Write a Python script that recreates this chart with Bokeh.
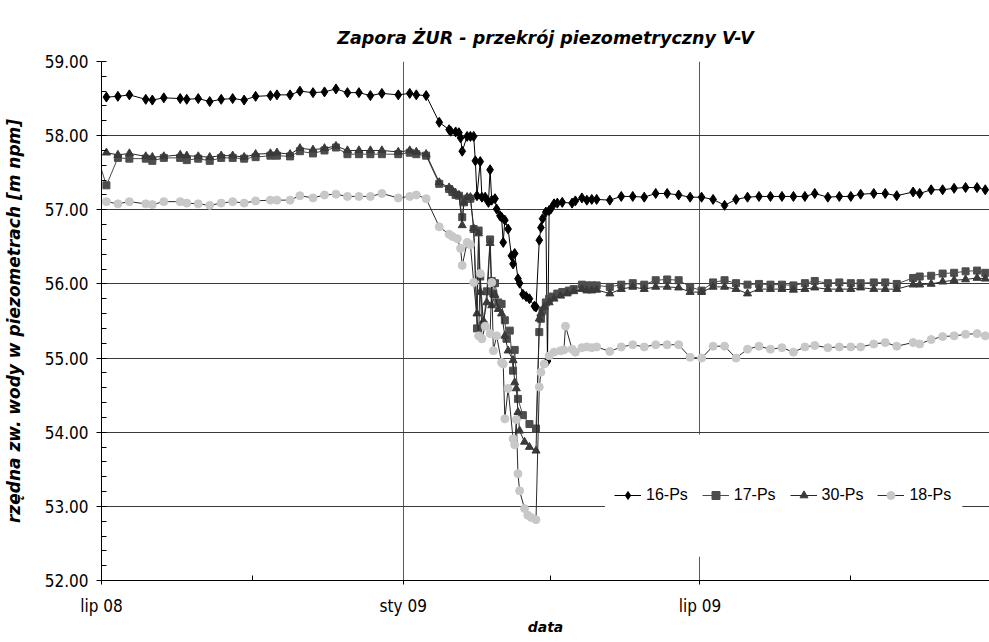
import datetime as dt
from bokeh.plotting import figure
from bokeh.models import (Range1d, FixedTicker, CustomJSTickFormatter, PrintfTickFormatter,
                          Legend, LegendItem, BoxAnnotation)
from bokeh.embed import file_html
from bokeh.resources import INLINE

# ---------------- data ----------------
dates_h1 = ["2008-07-04", "2008-07-11", "2008-07-18", "2008-07-28", "2008-08-01", "2008-08-08",
            "2008-08-18", "2008-08-22", "2008-08-29", "2008-09-05", "2008-09-12", "2008-09-19",
            "2008-09-26", "2008-10-03", "2008-10-12", "2008-10-16", "2008-10-24", "2008-10-30",
            "2008-11-07", "2008-11-14", "2008-11-21", "2008-11-28", "2008-12-05", "2008-12-12",
            "2008-12-19", "2008-12-29", "2009-01-05", "2009-01-09", "2009-01-15"]
dates_h2 = ["2009-04-20", "2009-04-23", "2009-04-26", "2009-04-29", "2009-05-07", "2009-05-14",
            "2009-05-21", "2009-05-28", "2009-06-04", "2009-06-11", "2009-06-18", "2009-06-25",
            "2009-07-02", "2009-07-09", "2009-07-16", "2009-07-23", "2009-07-30", "2009-08-06",
            "2009-08-13", "2009-08-20", "2009-08-27", "2009-09-03", "2009-09-09", "2009-09-17",
            "2009-09-24", "2009-10-01", "2009-10-07", "2009-10-15", "2009-10-22", "2009-10-29",
            "2009-11-08", "2009-11-12", "2009-11-19", "2009-11-26", "2009-12-03", "2009-12-10",
            "2009-12-17", "2009-12-22"]

# 16-Ps
ps16_h1 = [58.52, 58.53, 58.55, 58.49, 58.48, 58.51, 58.50, 58.49, 58.50, 58.46, 58.49, 58.50,
           58.48, 58.53, 58.54, 58.55, 58.55, 58.60, 58.58, 58.59, 58.63, 58.58, 58.58, 58.54,
           58.57, 58.55, 58.57, 58.55, 58.54]
ps16_mid_dates = ["2009-01-23", "2009-01-29", "2009-01-30", "2009-02-02", "2009-02-04", "2009-02-05",
                  "2009-02-06", "2009-02-09", "2009-02-11", "2009-02-13", "2009-02-14", "2009-02-15",
                  "2009-02-17", "2009-02-18", "2009-02-20", "2009-02-22", "2009-02-23", "2009-02-24",
                  "2009-02-26", "2009-02-27", "2009-03-01", "2009-03-02", "2009-03-03", "2009-03-04",
                  "2009-03-06", "2009-03-08", "2009-03-09", "2009-03-10", "2009-03-12", "2009-03-13",
                  "2009-03-15", "2009-03-17", "2009-03-19", "2009-03-22", "2009-03-23", "2009-03-25",
                  "2009-03-26", "2009-03-27", "2009-03-29", "2009-03-30", "2009-03-31", "2009-04-01",
                  "2009-04-03", "2009-04-05", "2009-04-08", "2009-04-14", "2009-04-16"]
ps16_mid = [58.18, 58.08, 58.06, 58.05, 58.04, 57.97,
            57.79, 57.99, 57.99, 57.99, 57.66, 57.19,
            57.65, 57.17, 57.17, 57.10, 57.54, 57.13,
            57.15, 57.01, 56.92, 56.90, 56.56, 56.86,
            56.74, 56.38, 56.27, 56.41, 56.07, 56.01,
            55.86, 55.83, 55.80, 55.70, 55.69, 56.59,
            56.76, 56.88, 56.97, 54.96, 56.99, 57.01,
            57.08, 57.09, 57.10, 57.09, 57.12]
ps16_h2 = [57.16, 57.13, 57.14, 57.14, 57.13, 57.18, 57.18, 57.17, 57.22, 57.22, 57.20, 57.17,
           57.17, 57.14, 57.06, 57.14, 57.17, 57.18, 57.18, 57.18, 57.18, 57.18, 57.22, 57.17,
           57.18, 57.18, 57.21, 57.22, 57.22, 57.19, 57.24, 57.22, 57.27, 57.27, 57.29, 57.30,
           57.30, 57.27]

# 17-Ps
ps17_pre_dates = ["2008-06-28"]
ps17_pre = [57.75]
ps17_h1 = [57.33, 57.70, 57.69, 57.69, 57.66, 57.70, 57.70, 57.67, 57.69, 57.66, 57.70, 57.70,
           57.69, 57.71, 57.73, 57.73, 57.72, 57.79, 57.76, 57.80, 57.84, 57.75, 57.75, 57.75,
           57.75, 57.75, 57.77, 57.75, 57.73]
ps17_mid_dates = ["2009-01-23", "2009-01-29", "2009-01-31", "2009-02-02", "2009-02-04", "2009-02-06",
                  "2009-02-07", "2009-02-09", "2009-02-11", "2009-02-13", "2009-02-15", "2009-02-16",
                  "2009-02-17", "2009-02-19", "2009-02-21", "2009-02-23", "2009-02-24", "2009-02-25",
                  "2009-02-26", "2009-02-28", "2009-03-02", "2009-03-04", "2009-03-05", "2009-03-07",
                  "2009-03-09", "2009-03-10", "2009-03-12", "2009-03-15", "2009-03-19", "2009-03-23",
                  "2009-03-25", "2009-03-26", "2009-03-27", "2009-03-29", "2009-03-31", "2009-04-02",
                  "2009-04-05", "2009-04-08", "2009-04-12", "2009-04-15"]
ps17_mid = [57.35, 57.28, 57.24, 57.20, 57.19, 56.90,
            57.10, 57.15, 57.15, 56.74, 55.40, 56.72,
            56.10, 55.45, 55.90, 56.60, 56.04, 55.87,
            56.01, 55.75, 55.73, 55.51, 55.26, 55.37,
            54.83, 55.11, 54.45, 54.23, 54.11, 54.05,
            55.35, 55.53, 55.64, 55.75, 55.80, 55.83,
            55.87, 55.89, 55.91, 55.93]
ps17_h2 = [55.99, 55.98, 55.98, 55.98, 55.96, 55.99, 56.01, 55.99, 56.05, 56.06, 56.05, 55.96,
           55.91, 56.02, 56.05, 56.01, 55.99, 56.00, 55.99, 55.99, 55.98, 56.01, 56.04, 56.01,
           56.02, 56.01, 56.01, 56.02, 56.02, 56.00, 56.08, 56.10, 56.11, 56.14, 56.15, 56.17,
           56.18, 56.15]

# 30-Ps
ps30_h1 = [57.77, 57.74, 57.76, 57.72, 57.71, 57.72, 57.74, 57.73, 57.72, 57.71, 57.73, 57.73,
           57.71, 57.75, 57.76, 57.77, 57.75, 57.83, 57.81, 57.83, 57.86, 57.80, 57.80, 57.80,
           57.80, 57.78, 57.80, 57.78, 57.75]
ps30_mid_dates = ["2009-01-23", "2009-01-29", "2009-01-31", "2009-02-02", "2009-02-04", "2009-02-06",
                  "2009-02-07", "2009-02-09", "2009-02-11", "2009-02-13", "2009-02-15", "2009-02-16",
                  "2009-02-17", "2009-02-19", "2009-02-21", "2009-02-23", "2009-02-24", "2009-02-26",
                  "2009-02-28", "2009-03-02", "2009-03-04", "2009-03-06", "2009-03-09", "2009-03-10",
                  "2009-03-11", "2009-03-12", "2009-03-13", "2009-03-16", "2009-03-19", "2009-03-23",
                  "2009-03-25", "2009-03-26", "2009-03-28", "2009-03-31", "2009-04-03", "2009-04-07",
                  "2009-04-11", "2009-04-15"]
ps30_mid = [57.37, 57.30, 57.26, 57.22, 57.20, 56.79,
            57.10, 57.17, 57.17, 56.75, 55.60, 56.68,
            55.89, 55.50, 55.75, 56.55, 55.71, 55.85,
            55.66, 55.60, 55.30, 55.10, 54.97, 54.67,
            54.59, 54.27, 54.02, 53.87, 53.80, 53.75,
            55.53, 55.60, 55.69, 55.75, 55.80, 55.84,
            55.87, 55.90]
ps30_h2 = [55.93, 55.91, 55.91, 55.92, 55.87, 55.93, 55.96, 55.93, 55.96, 55.96, 55.95, 55.89,
           55.89, 55.96, 55.96, 55.93, 55.87, 55.93, 55.93, 55.93, 55.92, 55.93, 55.95, 55.93,
           55.93, 55.93, 55.95, 55.93, 55.93, 55.93, 55.99, 55.99, 56.00, 56.03, 56.05, 56.06,
           56.08, 56.07]

# 18-Ps
ps18_h1 = [57.11, 57.08, 57.11, 57.08, 57.07, 57.11, 57.11, 57.09, 57.08, 57.06, 57.09, 57.11,
           57.09, 57.12, 57.13, 57.13, 57.13, 57.19, 57.16, 57.20, 57.21, 57.18, 57.18, 57.18,
           57.22, 57.16, 57.18, 57.20, 57.15]
ps18_mid_dates = ["2009-01-23", "2009-01-29", "2009-01-31", "2009-02-03", "2009-02-05", "2009-02-06",
                  "2009-02-09", "2009-02-11", "2009-02-13", "2009-02-16", "2009-02-17", "2009-02-18",
                  "2009-02-20", "2009-02-23", "2009-02-24", "2009-02-25", "2009-02-27", "2009-03-02",
                  "2009-03-03", "2009-03-04", "2009-03-06", "2009-03-09", "2009-03-10", "2009-03-11",
                  "2009-03-12", "2009-03-13", "2009-03-16", "2009-03-18", "2009-03-20", "2009-03-23",
                  "2009-03-25", "2009-03-26", "2009-03-28", "2009-03-31", "2009-04-03", "2009-04-07",
                  "2009-04-09", "2009-04-10", "2009-04-14", "2009-04-16"]
ps18_mid = [56.77, 56.67, 56.64, 56.61, 56.48, 56.25,
            56.56, 56.53, 56.02, 55.30, 56.14, 55.26,
            55.43, 55.33, 56.02, 55.10, 55.30, 54.94,
            54.92, 54.18, 54.59, 53.91, 53.83, 54.17,
            53.44, 53.21, 52.97, 52.88, 52.85, 52.82,
            54.61, 54.81, 54.92, 55.03, 55.08, 55.10,
            55.11, 55.43, 55.12, 55.08]
ps18_h2 = [55.14, 55.15, 55.14, 55.15, 55.09, 55.15, 55.18, 55.15, 55.18, 55.18, 55.18, 55.01,
           55.00, 55.16, 55.16, 55.00, 55.12, 55.16, 55.12, 55.14, 55.08, 55.15, 55.17, 55.14,
           55.15, 55.15, 55.15, 55.19, 55.21, 55.16, 55.21, 55.19, 55.25, 55.29, 55.30, 55.32,
           55.33, 55.30]

series_names = ["16-Ps", "17-Ps", "30-Ps", "18-Ps"]
title_text = "Zapora ŻUR - przekrój piezometryczny V-V"
x_tick_dates = ["2008-07-01", "2009-01-01", "2009-07-01"]
x_tick_labels = ["lip 08", "sty 09", "lip 09"]
x_minor_dates = ["2008-10-01", "2009-04-01", "2009-10-01"]
y_ticks = [52, 53, 54, 55, 56, 57, 58, 59]

# ---------------- helpers ----------------
EPOCH = dt.datetime(1970, 1, 1)


def d(s):
    return dt.datetime.strptime(s, "%Y-%m-%d")


def ms(x):
    return (x - EPOCH).total_seconds() * 1000.0


def series(date_lists, value_lists):
    xs, ys = [], []
    for dl, vl in zip(date_lists, value_lists):
        xs += [d(s) for s in dl]
        ys += list(vl)
    return xs, ys


x16, y16 = series([dates_h1, ps16_mid_dates, dates_h2], [ps16_h1, ps16_mid, ps16_h2])
x17, y17 = series([ps17_pre_dates, dates_h1, ps17_mid_dates, dates_h2], [ps17_pre, ps17_h1, ps17_mid, ps17_h2])
x30, y30 = series([dates_h1, ps30_mid_dates, dates_h2], [ps30_h1, ps30_mid, ps30_h2])
x18, y18 = series([dates_h1, ps18_mid_dates, dates_h2], [ps18_h1, ps18_mid, ps18_h2])

# ---------------- figure ----------------
x_start = d("2008-07-01")
x_end = dt.datetime(2009, 12, 24, 14)

p = figure(width=989, height=642, x_axis_type="datetime",
           x_range=Range1d(ms(x_start), ms(x_end)), y_range=Range1d(52, 59),
           output_backend="svg", toolbar_location=None,
           min_border_left=100, min_border_right=0, min_border_top=61, min_border_bottom=62,
           title=title_text)
p.outline_line_color = None
p.background_fill_color = "white"
p.border_fill_color = "white"

p.title.text_font = "DejaVu Sans"
p.title.text_font_style = "bold italic"
p.title.text_font_size = "17.5px"
p.title.align = "center"
p.title.text_color = "black"
p.title.standoff = 28

# x axis
p.xaxis.ticker = FixedTicker(ticks=[ms(d(s)) for s in x_tick_dates],
                             minor_ticks=[ms(d(s)) for s in x_minor_dates])
p.xaxis.formatter = CustomJSTickFormatter(
    args=dict(tvals=[ms(d(s)) for s in x_tick_dates], tlabels=x_tick_labels),
    code="""
let best = 0, bd = Infinity;
for (let i = 0; i < tvals.length; i++) {
  const dd = Math.abs(tvals[i] - tick);
  if (dd < bd) { bd = dd; best = i; }
}
return tlabels[best];
""")
p.xaxis.axis_label = "data"
p.xaxis.major_tick_in = 0
p.xaxis.major_tick_out = 4
p.xaxis.minor_tick_in = 5
p.xaxis.minor_tick_out = 0
p.xaxis.major_label_standoff = 11
p.xaxis.axis_label_standoff = 0

# y axis
p.yaxis.ticker = FixedTicker(ticks=y_ticks,
                             minor_ticks=[round(52 + 0.2 * i, 1) for i in range(36)])
p.yaxis.formatter = PrintfTickFormatter(format="%.2f")
p.yaxis.axis_label = "rzędna zw. wody w piezometrach [m npm]"
p.yaxis.major_tick_in = 0
p.yaxis.major_tick_out = 5
p.yaxis.minor_tick_in = 5
p.yaxis.minor_tick_out = 0
p.yaxis.major_label_standoff = 8
p.yaxis.axis_label_standoff = 18

for ax in (p.xaxis, p.yaxis):
    ax.axis_line_color = "black"
    ax.major_tick_line_color = "black"
    ax.minor_tick_line_color = "black"
    ax.major_label_text_color = "black"
    ax.major_label_text_font = "DejaVu Sans Condensed"
    ax.major_label_text_font_size = "17px"
    ax.axis_label_text_color = "black"
    ax.axis_label_text_font = "DejaVu Sans"
    ax.axis_label_text_font_style = "bold italic"
p.xaxis.axis_label_text_font_size = "14px"
p.yaxis.axis_label_text_font_size = "17px"

p.xgrid.grid_line_color = "#5a5a5a"
p.ygrid.grid_line_color = "#3a3a3a"
p.xgrid.grid_line_width = 1
p.ygrid.grid_line_width = 1

# white legend box (hides grid lines under the legend)
p.add_layout(BoxAnnotation(left=ms(d("2009-05-04")), right=ms(d("2009-12-08")),
                           bottom=52.32, top=53.97, fill_color="white", fill_alpha=1.0,
                           line_alpha=0))

# series
l16 = p.line(x16, y16, line_color="black", line_width=1)
s16 = p.scatter(x16, y16, marker="diamond", size=10, fill_color="black", line_color="black")
l17 = p.line(x17, y17, line_color="#4a4a4a", line_width=1)
s17 = p.scatter(x17, y17, marker="square", size=7, fill_color="#4d4d4d", line_color="#4d4d4d")
l30 = p.line(x30, y30, line_color="#262626", line_width=1)
s30 = p.scatter(x30, y30, marker="triangle", size=8, fill_color="#3a3a3a", line_color="#3a3a3a")
l18 = p.line(x18, y18, line_color="#2a2a2a", line_width=1)
s18 = p.scatter(x18, y18, marker="circle", size=8, fill_color="#c8c8c8", line_color="#c8c8c8")

legend = Legend(items=[LegendItem(label=series_names[0], renderers=[l16, s16]),
                       LegendItem(label=series_names[1], renderers=[l17, s17]),
                       LegendItem(label=series_names[2], renderers=[l30, s30]),
                       LegendItem(label=series_names[3], renderers=[l18, s18])],
                orientation="horizontal", location=(513, 75),
                background_fill_alpha=0, border_line_alpha=0, padding=0, margin=0,
                spacing=14, glyph_width=27, glyph_height=20, label_standoff=5,
                label_height=20, label_text_font="Liberation Sans",
                label_text_font_size="16px", label_text_color="black")
p.add_layout(legend)

open("out.html", "w").write(file_html(p, INLINE))
